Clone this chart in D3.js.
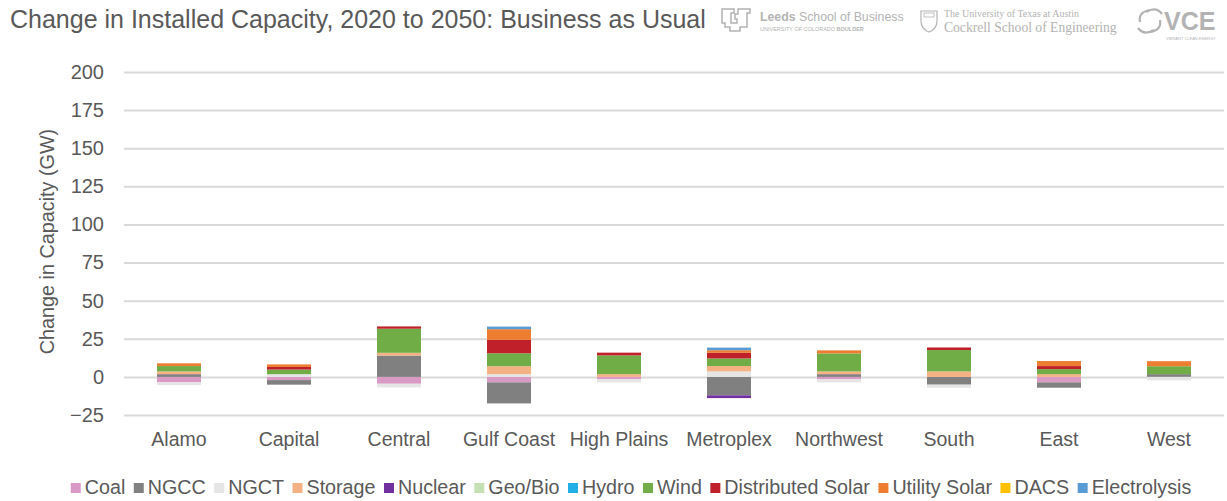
<!DOCTYPE html>
<html>
<head>
<meta charset="utf-8">
<script src="https://cdn.jsdelivr.net/npm/d3@7"></script>
<style>
  html, body { margin: 0; padding: 0; background: #fff; }
  svg { display: block; font-family: "Liberation Sans", Arial, sans-serif; }
</style>
</head>
<body>
<svg id="chart" width="1227" height="501"></svg>
<script>
// Regions (x axis categories)
const regions = ["Alamo", "Capital", "Central", "Gulf Coast", "High Plains",
                 "Metroplex", "Northwest", "South", "East", "West"];

// Change in installed capacity per technology, GW, one value per region
const coal         = [-3.6, -2.1, -4.5, -3.6, -1.4,   0.0, -1.6,  0.0, -3.6,  0.0];
const ngcc         = [ 1.8, -3.0, 14.0,-13.8,  0.0, -12.1,  1.8, -5.1, -3.5,  1.8];
const ngct         = [-1.8,  1.8, -2.4,  1.8, -2.2,   3.6, -2.0, -2.0,  0.0, -2.3];
const storage      = [ 1.8,  0.0,  1.8,  5.2,  1.8,   3.5,  1.8,  3.6,  1.8,  0.0];
const nuclear      = [ 0.0,  0.0,  0.0,  0.0,  0.0,  -1.8,  0.0,  0.0,  0.0,  0.0];
const geoBio       = [ 0.0,  0.0,  0.0,  0.0,  0.0,   0.0,  0.0,  0.0,  0.0,  0.0];
const hydro        = [ 0.0,  0.0,  0.0,  0.0,  0.0,   0.0,  0.0,  0.0,  0.0,  0.0];
const wind         = [ 3.5,  3.0, 15.8,  8.5, 12.3,   5.0, 11.8, 14.0,  3.3,  5.2];
const distSolar    = [ 0.0,  1.7,  1.5,  8.8,  1.8,   3.7,  0.0,  1.7,  2.0,  0.0];
const utilitySolar = [ 1.8,  1.7,  0.0,  7.0,  0.0,   1.7,  2.0,  0.0,  3.3,  3.3];
const dacs         = [ 0.0,  0.0,  0.0,  0.0,  0.0,   0.0,  0.0,  0.0,  0.0,  0.0];
const electrolysis = [ 0.0,  0.0,  0.0,  1.7,  0.0,   1.7,  0.0,  0.0,  0.0,  0.0];

// Series names (legend order) and their colours
const seriesNames  = ["Coal", "NGCC", "NGCT", "Storage", "Nuclear", "Geo/Bio", "Hydro",
                      "Wind", "Distributed Solar", "Utility Solar", "DACS", "Electrolysis"];
const seriesValues = [coal, ngcc, ngct, storage, nuclear, geoBio, hydro,
                      wind, distSolar, utilitySolar, dacs, electrolysis];
const seriesColors = ["#d99ac5", "#808080", "#e6e5e5", "#f4b183", "#7030a0", "#c5e0b4",
                      "#22afe5", "#70ad47", "#c0202a", "#ed7d31", "#ffc000", "#5b9bd5"];

// Axis ticks
const yTicks = [-25, 0, 25, 50, 75, 100, 125, 150, 175, 200];

const titleText = "Change in Installed Capacity, 2020 to 2050: Business as Usual";
const yAxisTitle = "Change in Capacity (GW)";

const textColor = "#595959";
const svg = d3.select("#chart");

const plot = { left: 124, right: 1224, top: 72, bottom: 415 };

const x = d3.scaleBand()
  .domain(regions)
  .range([plot.left, plot.right])
  .paddingInner(0.6)
  .paddingOuter(0.3);

const y = d3.scaleLinear()
  .domain([-25, 200])
  .range([plot.bottom, plot.top]);

// Build table rows for the stack layout
const rows = regions.map((r, i) => {
  const row = { region: r };
  seriesNames.forEach((s, k) => { row[s] = seriesValues[k][i]; });
  return row;
});

const stacked = d3.stack()
  .keys(seriesNames)
  .offset(d3.stackOffsetDiverging)(rows);

// Gridlines and value labels
const yAxis = d3.axisLeft(y)
  .tickValues(yTicks)
  .tickSize(-(plot.right - plot.left))
  .tickPadding(20)
  .tickFormat(d3.format("d"));

const yg = svg.append("g")
  .attr("transform", `translate(${plot.left},0)`)
  .call(yAxis);
yg.select(".domain").remove();
yg.selectAll(".tick line")
  .attr("stroke", "#d9d9d9")
  .attr("stroke-width", 2);
yg.selectAll(".tick text")
  .attr("fill", textColor)
  .attr("font-size", 20);

// Stacked bars
svg.append("g")
  .selectAll("g")
  .data(stacked)
  .join("g")
  .attr("fill", (d, k) => seriesColors[k])
  .selectAll("rect")
  .data(d => d)
  .join("rect")
  .attr("x", d => x(d.data.region))
  .attr("width", x.bandwidth())
  .attr("y", d => y(Math.max(d[0], d[1])))
  .attr("height", d => Math.abs(y(d[0]) - y(d[1])));

// Category labels
const xAxis = d3.axisBottom(x).tickSize(0).tickPadding(0);
const xg = svg.append("g")
  .attr("transform", `translate(0,${plot.bottom + 17})`)
  .call(xAxis);
xg.select(".domain").remove();
xg.selectAll(".tick text")
  .attr("fill", textColor)
  .attr("font-size", 19.5)
  .attr("font-family", "Liberation Sans, Arial, sans-serif");

// Axis title
svg.append("text")
  .attr("transform", `translate(54,${(y(200) + y(-25)) / 2 - 2}) rotate(-90)`)
  .attr("text-anchor", "middle")
  .attr("fill", textColor)
  .attr("font-size", 19.8)
  .text(yAxisTitle);

// Chart title
svg.append("text")
  .attr("x", 10)
  .attr("y", 28)
  .attr("fill", textColor)
  .attr("font-size", 25)
  .text(titleText);

// Legend
const legendGap = 8.5;
const legend = svg.append("g");
const items = legend.selectAll("g")
  .data(seriesNames)
  .join("g");
items.append("rect")
  .attr("width", 10).attr("height", 10)
  .attr("y", -4)
  .attr("fill", (d, k) => seriesColors[k]);
items.append("text")
  .attr("x", 14)
  .attr("dy", "0.35em")
  .attr("fill", textColor)
  .attr("font-size", 19.7)
  .text(d => d);
let cursor = 0;
items.each(function() {
  const g = d3.select(this);
  g.attr("transform", `translate(${cursor},0)`);
  cursor += 14 + g.select("text").node().getComputedTextLength() + legendGap;
});
const legendWidth = cursor - legendGap;
legend.attr("transform", `translate(${631 - legendWidth / 2},487)`);

// Partner marks in the header
const logo = svg.append("g").attr("fill", "#b3b3b3");
// CU emblem
logo.append("path")
  .attr("d", "M722,9 h12 v4 h-3 v10 h6 v-4 h-2 v-5 h3 v-5 h12 v4 h-3 v14 h-7 v4 h-10 v-4 h-5 v-4 h-3 z")
  .attr("fill", "none").attr("stroke", "#b3b3b3").attr("stroke-width", 1.5);
logo.append("text").attr("x", 760).attr("y", 21).attr("font-size", 12.3)
  .html('<tspan font-weight="bold">Leeds</tspan> School of Business');
logo.append("text").attr("x", 760).attr("y", 31).attr("font-size", 5.5)
  .html('UNIVERSITY OF COLORADO <tspan font-weight="bold">BOULDER</tspan>');
// UT shield
logo.append("path")
  .attr("d", "M921,11 h16 v10 q0,8 -8,11 q-8,-3 -8,-11 z")
  .attr("fill", "none").attr("stroke", "#b3b3b3").attr("stroke-width", 1.2);
logo.append("rect").attr("x", 924).attr("y", 13).attr("width", 10).attr("height", 4)
  .attr("fill", "none").attr("stroke", "#b3b3b3").attr("stroke-width", 0.8);
logo.append("text").attr("x", 944).attr("y", 16.5).attr("font-size", 10)
  .attr("font-family", "Liberation Serif, serif")
  .text("The University of Texas at Austin");
logo.append("text").attr("x", 944).attr("y", 32).attr("font-size", 13.6)
  .attr("font-family", "Liberation Serif, serif")
  .text("Cockrell School of Engineering");
// VCE swirl
const swirl = logo.append("g").attr("fill", "none").attr("stroke", "#b3b3b3").attr("stroke-width", 2.2);
swirl.append("path").attr("d", "M1150,10 q-12,2 -10,12");
swirl.append("path").attr("d", "M1162,14 q-6,-8 -16,-2");
swirl.append("path").attr("d", "M1150,32 q12,-2 10,-12");
swirl.append("path").attr("d", "M1138,28 q6,8 16,2");
logo.append("text").attr("x", 1164).attr("y", 30).attr("font-size", 25)
  .attr("font-weight", "bold").text("VCE");
logo.append("text").attr("x", 1166).attr("y", 40).attr("font-size", 4)
  .text("VIBRANT CLEAN ENERGY");
</script>
</body>
</html>
